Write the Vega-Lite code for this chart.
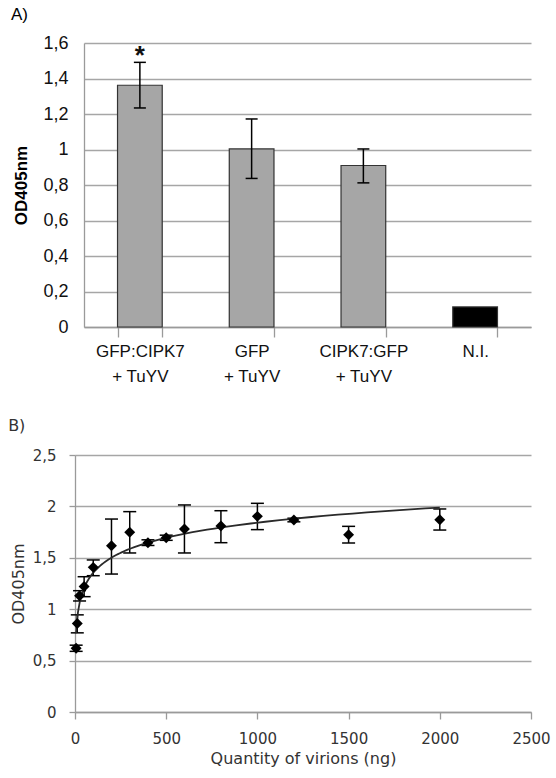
{
  "$schema": "https://vega.github.io/schema/vega-lite/v6.json",
  "usermeta": {"embedOptions": {"actions": false}},
  "padding": {"left": 8, "top": 6, "right": 0, "bottom": 12},
  "background": "#ffffff",
  "vconcat": [
    {
      "width": 456,
      "height": 284,
      "title": {"text": "A)", "anchor": "start", "frame": "bounds", "font": "Liberation Sans", "fontSize": 17, "fontWeight": "normal", "color": "#000000", "offset": 10, "dx": -2},
      "data": {"values": [
        {"group": "GFP:CIPK7 + TuYV", "od": 1.362, "lo": 1.234, "hi": 1.491, "kind": "sample", "sig": "*"},
        {"group": "GFP + TuYV", "od": 1.003, "lo": 0.837, "hi": 1.172, "kind": "sample"},
        {"group": "CIPK7:GFP + TuYV", "od": 0.91, "lo": 0.812, "hi": 1.003, "kind": "sample"},
        {"group": "N.I.", "od": 0.113, "kind": "control"}
      ]},
      "encoding": {
        "x": {
          "field": "group", "type": "nominal", "sort": null,
          "scale": {"paddingInner": 0.6, "paddingOuter": 0.3, "range": [9, 456]},
          "axis": {
            "title": null, "labelAngle": 0, "labelFont": "Liberation Sans", "labelFontSize": 17, "labelColor": "#111111",
            "labelLineHeight": 25, "labelPadding": 6, "tickSize": 10, "tickColor": "#9a9a9a", "tickWidth": 1.3,
            "domainColor": "#9a9a9a", "domainWidth": 1.3, "tickBand": "extent", "grid": false,
            "labelExpr": "indexof(datum.label, ' + ') >= 0 ? [split(datum.label, ' + ')[0], '+ ' + split(datum.label, ' + ')[1]] : datum.label"
          }
        }
      },
      "layer": [
        {
          "mark": {"type": "bar", "stroke": "#333333", "strokeWidth": 1.2},
          "encoding": {
            "y": {
              "field": "od", "type": "quantitative", "scale": {"domain": [0, 1.6]},
              "axis": {
                "title": "OD405nm", "titleFont": "Liberation Sans", "titleFontSize": 17, "titleFontWeight": "bold", "titleColor": "#000000", "titlePadding": 12,
                "values": [0, 0.2, 0.4, 0.6, 0.8, 1, 1.2, 1.4, 1.6], "tickCount": 12, "format": "~g", "labelOverlap": false, "offset": -9,
                "labelFont": "Liberation Sans", "labelFontSize": 18, "labelColor": "#111111", "labelPadding": 16,
                "ticks": false, "domainColor": "#9a9a9a", "domainWidth": 1.3,
                "grid": true, "gridColor": "#a6a6a6", "gridWidth": 1.3
              }
            },
            "color": {"field": "kind", "type": "nominal", "scale": {"domain": ["sample", "control"], "range": ["#a6a6a6", "#000000"]}, "legend": null}
          }
        },
        {
          "mark": {"type": "rule", "color": "#000000", "strokeWidth": 1.5},
          "encoding": {"y": {"field": "lo", "type": "quantitative"}, "y2": {"field": "hi"}}
        },
        {
          "mark": {"type": "tick", "color": "#000000", "thickness": 1.5, "size": 12, "orient": "horizontal", "opacity": 1},
          "encoding": {"y": {"field": "lo", "type": "quantitative"}}
        },
        {
          "mark": {"type": "tick", "color": "#000000", "thickness": 1.5, "size": 12, "orient": "horizontal", "opacity": 1},
          "encoding": {"y": {"field": "hi", "type": "quantitative"}}
        },
        {
          "transform": [{"filter": "datum.sig"}],
          "mark": {"type": "text", "font": "Liberation Sans", "fontSize": 26, "fontWeight": "bold", "baseline": "alphabetic", "dy": 2, "color": "#111111"},
          "encoding": {"y": {"field": "hi", "type": "quantitative"}, "text": {"field": "sig"}}
        }
      ]
    },
    {
      "width": 456,
      "height": 257,
      "title": {"text": "B)", "anchor": "start", "frame": "bounds", "font": "DejaVu Sans", "fontSize": 16, "fontWeight": "normal", "color": "#333333", "offset": 14, "dx": -2},
      "data": {"values": [
        {"ng": 6.25, "od": 0.62, "lo": 0.59, "hi": 0.65},
        {"ng": 12.5, "od": 0.86, "lo": 0.77, "hi": 0.945},
        {"ng": 25, "od": 1.13, "lo": 1.08, "hi": 1.18},
        {"ng": 50, "od": 1.22, "lo": 1.122, "hi": 1.316},
        {"ng": 100, "od": 1.407, "lo": 1.326, "hi": 1.479},
        {"ng": 200, "od": 1.618, "lo": 1.342, "hi": 1.877},
        {"ng": 300, "od": 1.748, "lo": 1.547, "hi": 1.949},
        {"ng": 400, "od": 1.647, "lo": 1.62, "hi": 1.675},
        {"ng": 500, "od": 1.696, "lo": 1.67, "hi": 1.72},
        {"ng": 600, "od": 1.78, "lo": 1.547, "hi": 2.014},
        {"ng": 800, "od": 1.809, "lo": 1.647, "hi": 1.958},
        {"ng": 1000, "od": 1.903, "lo": 1.774, "hi": 2.03},
        {"ng": 1200, "od": 1.868, "lo": 1.85, "hi": 1.885},
        {"ng": 1500, "od": 1.725, "lo": 1.644, "hi": 1.806},
        {"ng": 2000, "od": 1.871, "lo": 1.77, "hi": 1.975}
      ]},
      "encoding": {
        "x": {
          "field": "ng", "type": "quantitative", "scale": {"domain": [0, 2500], "nice": false},
          "axis": {
            "title": "Quantity of virions (ng)", "titleFont": "DejaVu Sans", "titleFontSize": 16, "titleFontWeight": "normal", "titleColor": "#333333", "titlePadding": 4,
            "values": [0, 500, 1000, 1500, 2000, 2500], "format": "d",
            "labelFont": "DejaVu Sans", "labelFontSize": 15, "labelColor": "#333333", "labelPadding": 12, "labelFlush": false,
            "tickSize": 7, "tickColor": "#9a9a9a", "tickWidth": 1.3, "domainColor": "#9a9a9a", "domainWidth": 1.3, "grid": false
          }
        }
      },
      "layer": [
        {
          "mark": {"type": "rule", "color": "#000000", "strokeWidth": 1.5},
          "encoding": {
            "y": {
              "field": "lo", "type": "quantitative", "scale": {"domain": [0, 2.5], "nice": false},
              "axis": {
                "title": "OD405nm", "titleFont": "DejaVu Sans", "titleFontSize": 16, "titleFontWeight": "normal", "titleColor": "#333333", "titlePadding": 6,
                "values": [0, 0.5, 1, 1.5, 2, 2.5], "tickCount": 8, "format": "~g", "labelOverlap": false,
                "labelFont": "DejaVu Sans", "labelFontSize": 15, "labelColor": "#333333", "labelPadding": 13,
                "tickSize": 6, "tickColor": "#9a9a9a", "tickWidth": 1.3, "domainColor": "#9a9a9a", "domainWidth": 1.3,
                "grid": true, "gridColor": "#a6a6a6", "gridWidth": 1.3
              }
            },
            "y2": {"field": "hi"}
          }
        },
        {
          "mark": {"type": "tick", "color": "#000000", "thickness": 1.5, "size": 13, "orient": "horizontal", "opacity": 1},
          "encoding": {"y": {"field": "lo", "type": "quantitative"}}
        },
        {
          "mark": {"type": "tick", "color": "#000000", "thickness": 1.5, "size": 13, "orient": "horizontal", "opacity": 1},
          "encoding": {"y": {"field": "hi", "type": "quantitative"}}
        },
        {
          "transform": [{"regression": "od", "on": "ng", "method": "log"}],
          "mark": {"type": "line", "color": "#2a2a2a", "strokeWidth": 1.8},
          "encoding": {"y": {"field": "od", "type": "quantitative"}}
        },
        {
          "mark": {"type": "point", "shape": "diamond", "filled": true, "color": "#000000", "size": 120, "opacity": 1},
          "encoding": {"y": {"field": "od", "type": "quantitative"}}
        }
      ]
    }
  ],
  "spacing": 34,
  "config": {
    "view": {"stroke": null},
    "axis": {"labelOverlap": false},
    "locale": {"number": {"decimal": ",", "thousands": ".", "grouping": [3], "currency": ["", " €"]}}
  }
}
